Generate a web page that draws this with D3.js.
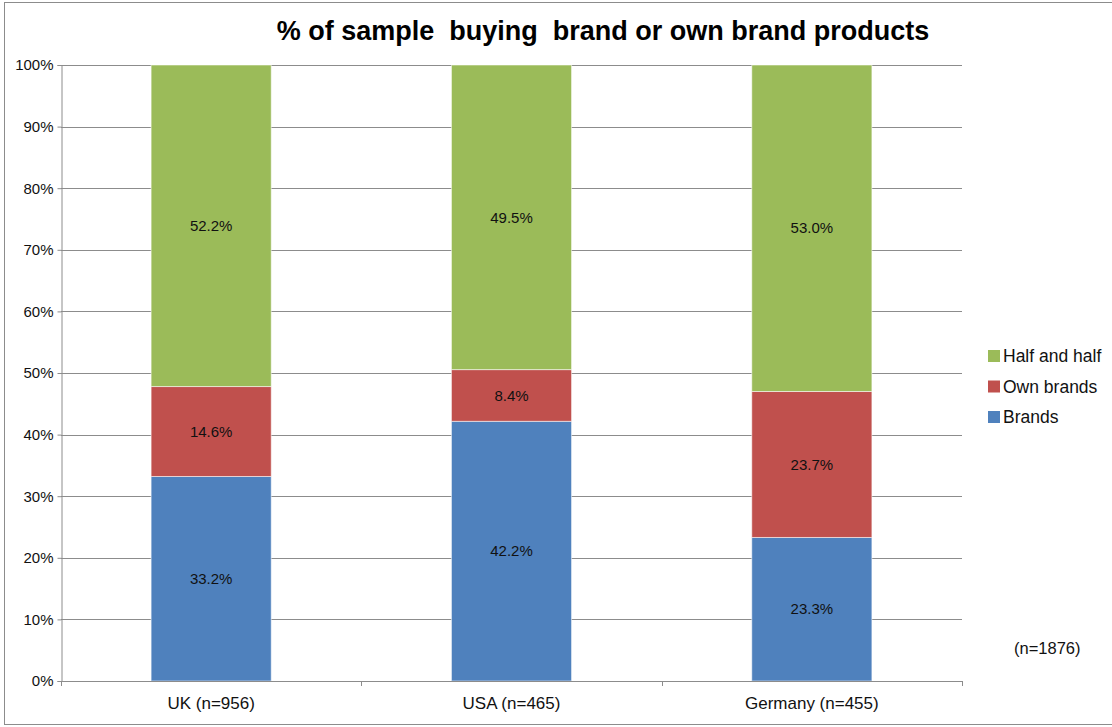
<!DOCTYPE html>
<html>
<head>
<meta charset="utf-8">
<script src="https://cdn.jsdelivr.net/npm/d3@7"></script>
<style>
  body { margin: 0; background: #fff; }
  svg { display: block; font-family: "Liberation Sans", Arial, sans-serif; }
</style>
</head>
<body>
<svg id="chart" width="1112" height="727"></svg>
<script>
// Survey results: share of each country's sample by buying habit
const categories = ["UK (n=956)", "USA (n=465)", "Germany (n=455)"];
const seriesNames = ["Brands", "Own brands", "Half and half"];
const brands = [33.2, 42.2, 23.3];
const ownBrands = [14.6, 8.4, 23.7];
const halfAndHalf = [52.2, 49.5, 53.0];
const seriesColors = ["#4F81BD", "#C0504D", "#9BBB59"];
const yTicks = [0, 10, 20, 30, 40, 50, 60, 70, 80, 90, 100];
const titleText = "% of sample  buying  brand or own brand products";
const sampleNote = "(n=1876)";

const svg = d3.select("#chart");

// outer chart frame
svg.append("rect")
  .attr("x", 4.5).attr("y", 2.5)
  .attr("width", 1112).attr("height", 722)
  .attr("fill", "#fff").attr("stroke", "#8c8c8c").attr("stroke-width", 1);

const plot = { left: 61, right: 962, top: 65, bottom: 681 };

const x = d3.scaleBand()
  .domain(categories)
  .range([plot.left, plot.right])
  .paddingInner(0.6).paddingOuter(0.3);

const y = d3.scaleLinear().domain([0, 100]).range([plot.bottom, plot.top]);

// horizontal gridlines
svg.append("g")
  .selectAll("line")
  .data(yTicks.filter(d => d > 0))
  .join("line")
  .attr("x1", plot.left).attr("x2", plot.right)
  .attr("y1", d => Math.round(y(d)) + 0.5).attr("y2", d => Math.round(y(d)) + 0.5)
  .attr("stroke", "#8c8c8c").attr("stroke-width", 1);

// stacked bars, each column scaled to 100%
const rows = categories.map((c, i) => ({
  cat: c, "Brands": brands[i], "Own brands": ownBrands[i], "Half and half": halfAndHalf[i]
}));
const stack = d3.stack().keys(seriesNames);
const layers = stack(rows);
const totals = rows.map(r => seriesNames.reduce((s, k) => s + r[k], 0));

const g = svg.append("g");
layers.forEach((layer, li) => {
  layer.forEach((seg, ci) => {
    const k = 100 / totals[ci];
    const y0 = y(seg[0] * k);
    const y1 = y(seg[1] * k);
    g.append("rect")
      .attr("x", x(seg.data.cat))
      .attr("width", x.bandwidth())
      .attr("y", y1)
      .attr("height", y0 - y1)
      .attr("fill", seriesColors[li])
      .attr("stroke", "rgba(255,255,255,0.55)")
      .attr("stroke-width", 1);
    g.append("text")
      .attr("x", x(seg.data.cat) + x.bandwidth() / 2)
      .attr("y", (y0 + y1) / 2)
      .attr("dy", "0.35em")
      .attr("text-anchor", "middle")
      .attr("font-size", 15)
      .attr("fill", "#111")
      .text(seg.data[layer.key].toFixed(1) + "%");
  });
});

// y axis
const yAxis = d3.axisLeft(y)
  .tickValues(yTicks)
  .tickSize(4)
  .tickPadding(4)
  .tickFormat(d => d + "%");
const ya = svg.append("g")
  .attr("transform", `translate(${plot.left + 0.5},0)`)
  .call(yAxis);
ya.select(".domain").attr("stroke", "#8c8c8c");
ya.selectAll(".tick line").attr("stroke", "#8c8c8c");
ya.selectAll(".tick text").attr("font-size", 15).attr("fill", "#111")
  .attr("font-family", "Liberation Sans, Arial, sans-serif");

// x axis baseline with category boundary ticks
const xa = svg.append("g");
xa.append("line")
  .attr("x1", plot.left).attr("x2", plot.right)
  .attr("y1", plot.bottom + 0.5).attr("y2", plot.bottom + 0.5)
  .attr("stroke", "#8c8c8c");
const step = x.step();
const bounds = [plot.left].concat(categories.map(c => x(c) - x.paddingInner() * step / 2 + step));
xa.selectAll(".bt")
  .data(bounds)
  .join("line")
  .attr("x1", d => Math.round(d) + 0.5).attr("x2", d => Math.round(d) + 0.5)
  .attr("y1", plot.bottom).attr("y2", plot.bottom + 5)
  .attr("stroke", "#8c8c8c");
xa.selectAll(".cl")
  .data(categories)
  .join("text")
  .attr("x", d => x(d) + x.bandwidth() / 2)
  .attr("y", 709)
  .attr("text-anchor", "middle")
  .attr("font-size", 17)
  .attr("fill", "#111")
  .text(d => d);

// title
svg.append("text")
  .attr("x", 603).attr("y", 40)
  .attr("text-anchor", "middle")
  .attr("font-size", 27)
  .attr("font-weight", "bold")
  .attr("fill", "#000")
  .style("white-space", "pre")
  .attr("xml:space", "preserve")
  .text(titleText);

// legend (top entry is the top segment)
const legendOrder = seriesNames.slice().reverse();
const lg = svg.append("g");
legendOrder.forEach((name, i) => {
  const cy = 356 + i * 30.5;
  lg.append("rect")
    .attr("x", 988).attr("y", cy - 6)
    .attr("width", 12).attr("height", 12)
    .attr("fill", seriesColors[seriesNames.indexOf(name)]);
  lg.append("text")
    .attr("x", 1003).attr("y", cy)
    .attr("dy", "0.35em")
    .attr("font-size", 17.5)
    .attr("fill", "#111")
    .text(name);
});

// overall sample size
svg.append("text")
  .attr("x", 1014).attr("y", 648)
  .attr("dy", "0.35em")
  .attr("font-size", 16.5)
  .attr("fill", "#111")
  .text(sampleNote);
</script>
</body>
</html>
